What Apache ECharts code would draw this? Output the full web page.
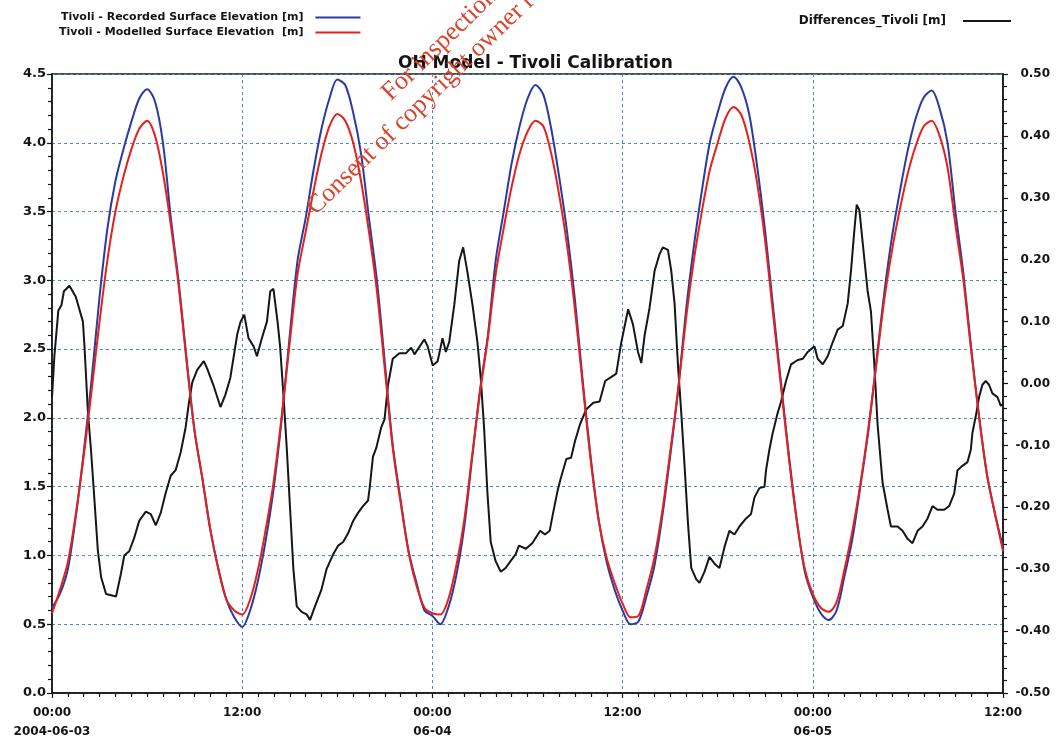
<!DOCTYPE html>
<html>
<head>
<meta charset="utf-8">
<script src="https://cdn.jsdelivr.net/npm/echarts@6/dist/echarts.min.js"></script>
<style>
  html, body { margin: 0; padding: 0; background: #ffffff; }
  #chart { width: 1057px; height: 745px; }
</style>
</head>
<body>
<div id="chart"></div>
<script>
// Time axis tick labels (every 12 hours from 2004-06-03 00:00)
const xTickLabels = ['00:00\n2004-06-03', '12:00', '00:00\n06-04', '12:00', '00:00\n06-05', '12:00'];
const leftTickLabels = ['0.0', '0.5', '1.0', '1.5', '2.0', '2.5', '3.0', '3.5', '4.0', '4.5'];
const rightTickLabels = ['-0.50', '-0.40', '-0.30', '-0.20', '-0.10', '0.00', '0.10', '0.20', '0.30', '0.40', '0.50'];

// Surface elevations [m], sampled every half hour from 00:00 on 06-03
const sampleStepHours = 0.5;
const recordedElevation = [
  0.62, 0.72, 0.90, 1.28, 1.75, 2.28, 2.88, 3.38, 3.72, 3.95, 4.15, 4.32, 4.39, 4.30, 4.00, 3.45,
  2.98, 2.42, 1.90, 1.55, 1.18, 0.90, 0.68, 0.55, 0.48, 0.60, 0.82, 1.12, 1.50, 2.00, 2.60, 3.15,
  3.45, 3.80, 4.10, 4.32, 4.46, 4.42, 4.22, 3.92, 3.45, 3.00, 2.40, 1.80, 1.40, 1.03, 0.80, 0.60,
  0.56, 0.50, 0.62, 0.85, 1.20, 1.70, 2.20, 2.60, 3.15, 3.50, 3.85, 4.12, 4.32, 4.42, 4.35, 4.10,
  3.75, 3.35, 2.85, 2.25, 1.70, 1.25, 0.95, 0.75, 0.60, 0.50, 0.52, 0.70, 0.92, 1.28, 1.72, 2.20,
  2.78, 3.25, 3.65, 4.00, 4.22, 4.40, 4.48, 4.40, 4.20, 3.82, 3.35, 2.80, 2.25, 1.72, 1.25, 0.88,
  0.70, 0.58, 0.53, 0.60, 0.85, 1.12, 1.50, 1.90, 2.40, 2.90, 3.32, 3.65, 3.95, 4.18, 4.33, 4.38,
  4.25, 4.00, 3.50, 3.05, 2.50, 2.00, 1.58, 1.30, 1.06
];
const modelledElevation = [
  0.58, 0.75, 0.95, 1.30, 1.72, 2.20, 2.70, 3.15, 3.50, 3.75, 3.95, 4.10, 4.16, 4.05, 3.78, 3.40,
  2.95, 2.40, 1.90, 1.55, 1.18, 0.90, 0.68, 0.60, 0.57, 0.68, 0.90, 1.20, 1.55, 2.02, 2.55, 3.05,
  3.35, 3.65, 3.92, 4.12, 4.21, 4.16, 4.00, 3.72, 3.35, 2.92, 2.35, 1.78, 1.38, 1.02, 0.78, 0.62,
  0.58, 0.57, 0.68, 0.92, 1.25, 1.72, 2.18, 2.58, 3.05, 3.38, 3.68, 3.92, 4.08, 4.16, 4.12, 3.92,
  3.62, 3.25, 2.78, 2.22, 1.68, 1.25, 0.98, 0.80, 0.65, 0.55, 0.56, 0.75, 0.98, 1.32, 1.75, 2.20,
  2.72, 3.15, 3.50, 3.80, 4.00, 4.18, 4.26, 4.20, 4.00, 3.70, 3.28, 2.75, 2.22, 1.70, 1.24, 0.90,
  0.72, 0.62, 0.59, 0.66, 0.90, 1.18, 1.52, 1.92, 2.38, 2.85, 3.22, 3.52, 3.78, 3.98, 4.12, 4.16,
  4.05, 3.82, 3.40, 3.00, 2.48, 2.00, 1.58, 1.30, 1.03
];

// Differences_Tivoli [m] as [hours since 06-03 00:00, difference]
const differenceReadings = [
  [0, -0.022], [0.15, 0.044], [0.4, 0.118], [0.6, 0.127], [0.75, 0.149], [1.1, 0.158], [1.5, 0.140],
  [1.95, 0.100], [2.05, 0.060], [2.26, -0.044], [2.47, -0.111], [2.68, -0.189], [2.89, -0.269],
  [3.1, -0.313], [3.41, -0.340], [4.04, -0.344], [4.35, -0.307], [4.56, -0.278], [4.87, -0.271],
  [5.19, -0.249], [5.5, -0.222], [5.92, -0.207], [6.23, -0.211], [6.55, -0.229], [6.86, -0.209],
  [7.18, -0.176], [7.49, -0.149], [7.8, -0.140], [8.12, -0.111], [8.43, -0.071], [8.64, -0.031],
  [8.85, 0.002], [9.16, 0.022], [9.58, 0.036], [9.79, 0.024], [10.2, -0.004], [10.63, -0.038],
  [10.94, -0.018], [11.25, 0.009], [11.69, 0.080], [11.9, 0.100], [12.13, 0.111], [12.4, 0.073],
  [12.72, 0.060], [12.93, 0.044], [13.24, 0.073], [13.56, 0.100], [13.77, 0.149], [13.97, 0.153],
  [14.23, 0.100], [14.39, 0.060], [14.6, -0.018], [14.81, -0.104], [15.02, -0.202], [15.23, -0.300],
  [15.44, -0.360], [15.75, -0.369], [16.07, -0.373], [16.28, -0.382], [16.59, -0.360], [17.0, -0.333],
  [17.32, -0.300], [17.74, -0.276], [18.05, -0.262], [18.37, -0.256], [18.68, -0.242], [19.0, -0.222],
  [19.31, -0.209], [19.62, -0.198], [19.94, -0.189], [20.04, -0.169], [20.25, -0.118], [20.46, -0.104],
  [20.77, -0.071], [20.98, -0.058], [21.19, -0.004], [21.5, 0.040], [21.92, 0.049], [22.34, 0.049],
  [22.66, 0.058], [22.87, 0.047], [23.2, 0.060], [23.49, 0.071], [23.7, 0.060], [24.02, 0.029],
  [24.33, 0.036], [24.64, 0.073], [24.85, 0.051], [25.06, 0.067], [25.38, 0.127], [25.69, 0.198],
  [25.94, 0.220], [26.21, 0.180], [26.53, 0.127], [26.84, 0.067], [27.05, 0.009], [27.26, -0.071],
  [27.47, -0.176], [27.68, -0.256], [27.99, -0.287], [28.31, -0.304], [28.62, -0.298], [28.93, -0.287],
  [29.25, -0.276], [29.46, -0.262], [29.9, -0.267], [30.3, -0.258], [30.8, -0.238], [31.1, -0.244],
  [31.4, -0.238], [31.6, -0.211], [31.9, -0.173], [32.1, -0.153], [32.45, -0.122], [32.75, -0.120],
  [33.0, -0.093], [33.3, -0.067], [33.7, -0.042], [34.15, -0.031], [34.55, -0.029], [34.9, 0.004],
  [35.2, 0.009], [35.6, 0.016], [35.9, 0.064], [36.1, 0.089], [36.35, 0.120], [36.65, 0.096],
  [36.97, 0.051], [37.18, 0.033], [37.39, 0.078], [37.7, 0.122], [38.02, 0.182], [38.33, 0.209],
  [38.54, 0.220], [38.86, 0.216], [39.07, 0.182], [39.28, 0.129], [39.49, 0.031], [39.7, -0.047],
  [39.91, -0.133], [40.12, -0.224], [40.33, -0.298], [40.64, -0.316], [40.85, -0.322], [41.17, -0.304],
  [41.48, -0.280], [41.8, -0.291], [42.11, -0.298], [42.43, -0.264], [42.74, -0.238], [43.06, -0.244],
  [43.37, -0.231], [43.79, -0.218], [44.1, -0.211], [44.32, -0.184], [44.63, -0.169], [44.95, -0.167],
  [45.05, -0.140], [45.26, -0.107], [45.47, -0.080], [45.79, -0.047], [46.0, -0.029], [46.31, 0.004],
  [46.63, 0.031], [47.05, 0.038], [47.37, 0.040], [47.68, 0.051], [48.1, 0.060], [48.31, 0.040],
  [48.63, 0.031], [48.94, 0.044], [49.26, 0.067], [49.57, 0.087], [49.89, 0.093], [50.2, 0.129],
  [50.41, 0.182], [50.62, 0.247], [50.77, 0.289], [50.94, 0.280], [51.15, 0.227], [51.46, 0.149],
  [51.67, 0.116], [51.88, 0.031], [52.09, -0.067], [52.4, -0.160], [52.72, -0.204], [52.93, -0.231],
  [53.35, -0.231], [53.66, -0.238], [53.98, -0.251], [54.29, -0.258], [54.61, -0.238], [54.92, -0.231],
  [55.24, -0.218], [55.55, -0.198], [55.87, -0.204], [56.29, -0.204], [56.6, -0.198], [56.92, -0.178],
  [57.13, -0.140], [57.44, -0.133], [57.76, -0.127], [57.97, -0.107], [58.07, -0.080], [58.28, -0.053],
  [58.49, -0.022], [58.7, -0.002], [58.91, 0.004], [59.12, -0.002], [59.33, -0.016], [59.65, -0.022],
  [59.86, -0.036], [60, -0.033]
];

const seriesNames = {
  recorded: 'Tivoli - Recorded Surface Elevation [m]',
  modelled: 'Tivoli - Modelled Surface Elevation  [m]',
  difference: 'Differences_Tivoli [m]'
};

// Pair each elevation with its hour offset
const toPairs = values => values.map((v, i) => [i * sampleStepHours, v]);

const FONT = '"DejaVu Sans", Verdana, sans-serif';
const INK = '#141414';
const GRID_BLUE = '#5288bf';
const WATERMARK_FONT = '26px "Liberation Serif", "Times New Roman", serif';

const chart = echarts.init(document.getElementById('chart'), null, { renderer: 'canvas' });

chart.setOption({
  backgroundColor: '#ffffff',
  animation: false,
  title: {
    text: 'OH Model - Tivoli Calibration',
    left: 393,
    top: 50,
    textStyle: { fontFamily: FONT, fontSize: 17, fontWeight: 'bold', color: INK }
  },
  legend: [
    {
      data: [seriesNames.recorded, seriesNames.modelled],
      orient: 'vertical',
      left: 54,
      top: 6,
      align: 'right',
      icon: 'rect',
      itemGap: 2,
      itemWidth: 45,
      itemHeight: 2,
      textStyle: {
        fontFamily: FONT, fontSize: 11, fontWeight: 'bold', color: INK,
        lineHeight: 13, padding: [0, 7, 0, 0]
      }
    },
    {
      data: [seriesNames.difference],
      right: 41,
      top: 9,
      align: 'right',
      icon: 'rect',
      itemWidth: 48,
      itemHeight: 2,
      textStyle: {
        fontFamily: FONT, fontSize: 12, fontWeight: 'bold', color: INK,
        lineHeight: 14, padding: [0, 12, 0, 0]
      }
    }
  ],
  grid: {
    left: 52, right: 54, top: 74, bottom: 52,
    show: true, borderColor: INK, borderWidth: 1.5, backgroundColor: '#ffffff'
  },
  xAxis: {
    type: 'value',
    min: 0, max: 60, interval: 12,
    axisLine: { show: true, lineStyle: { color: INK, width: 1.5 } },
    axisTick: { show: true, length: 5, lineStyle: { color: INK, width: 1.2 } },
    minorTick: { show: true, splitNumber: 12, length: 4, lineStyle: { color: INK, width: 1.2 } },
    splitLine: { show: true, lineStyle: { color: GRID_BLUE, width: 1, type: [3, 3] } },
    axisLabel: {
      formatter: v => xTickLabels[Math.round(v / 12)],
      fontFamily: FONT, fontSize: 12, fontWeight: 'bold', color: INK,
      lineHeight: 19, margin: 10, showMinLabel: true, showMaxLabel: true
    }
  },
  yAxis: [
    {
      type: 'value',
      min: 0, max: 4.5, interval: 0.5,
      axisLine: { show: true, lineStyle: { color: INK, width: 1.5 } },
      axisTick: { show: true, length: 5, lineStyle: { color: INK, width: 1.2 } },
      minorTick: { show: true, splitNumber: 5, length: 4, lineStyle: { color: INK, width: 1.2 } },
      splitLine: { show: true, lineStyle: { color: GRID_BLUE, width: 1, type: [3, 3] } },
      axisLabel: {
        formatter: v => leftTickLabels[Math.round(v / 0.5)],
        fontFamily: FONT, fontSize: 13, fontWeight: 'bold', color: INK, margin: 6
      }
    },
    {
      type: 'value',
      position: 'right',
      min: -0.5, max: 0.5, interval: 0.1,
      axisLine: { show: true, lineStyle: { color: INK, width: 1.5 } },
      axisTick: { show: true, length: 5, lineStyle: { color: INK, width: 1.2 } },
      minorTick: { show: true, splitNumber: 5, length: 4, lineStyle: { color: INK, width: 1.2 } },
      splitLine: { show: false },
      axisLabel: {
        formatter: v => rightTickLabels[Math.round((v + 0.5) / 0.1)],
        fontFamily: FONT, fontSize: 12, fontWeight: 'bold', color: INK,
        align: 'right', margin: 47
      }
    }
  ],
  series: [
    {
      name: seriesNames.difference,
      type: 'line',
      yAxisIndex: 1,
      data: differenceReadings,
      symbol: 'none',
      lineStyle: { color: '#161616', width: 2 },
      itemStyle: { color: '#161616' },
      z: 2
    },
    {
      name: seriesNames.recorded,
      type: 'line',
      yAxisIndex: 0,
      data: toPairs(recordedElevation),
      symbol: 'none',
      smooth: 0.3,
      lineStyle: { color: '#2c3aa0', width: 2 },
      itemStyle: { color: '#2c3aa0' },
      z: 3
    },
    {
      name: seriesNames.modelled,
      type: 'line',
      yAxisIndex: 0,
      data: toPairs(modelledElevation),
      symbol: 'none',
      smooth: 0.3,
      lineStyle: { color: '#e4211c', width: 2 },
      itemStyle: { color: '#e4211c' },
      z: 4
    }
  ],
  graphic: [
    {
      type: 'text',
      x: 395, y: 106,
      rotation: 0.77,
      silent: true,
      z: 100,
      style: {
        text: 'For inspection purposes only.',
        font: WATERMARK_FONT,
        fill: '#d5462f',
        textAlign: 'left',
        textVerticalAlign: 'bottom'
      }
    },
    {
      type: 'text',
      x: 320, y: 220,
      rotation: 0.77,
      silent: true,
      z: 100,
      style: {
        text: 'Consent of copyright owner required for any other use.',
        font: WATERMARK_FONT,
        fill: '#d5462f',
        textAlign: 'left',
        textVerticalAlign: 'bottom'
      }
    }
  ]
});
</script>
</body>
</html>
